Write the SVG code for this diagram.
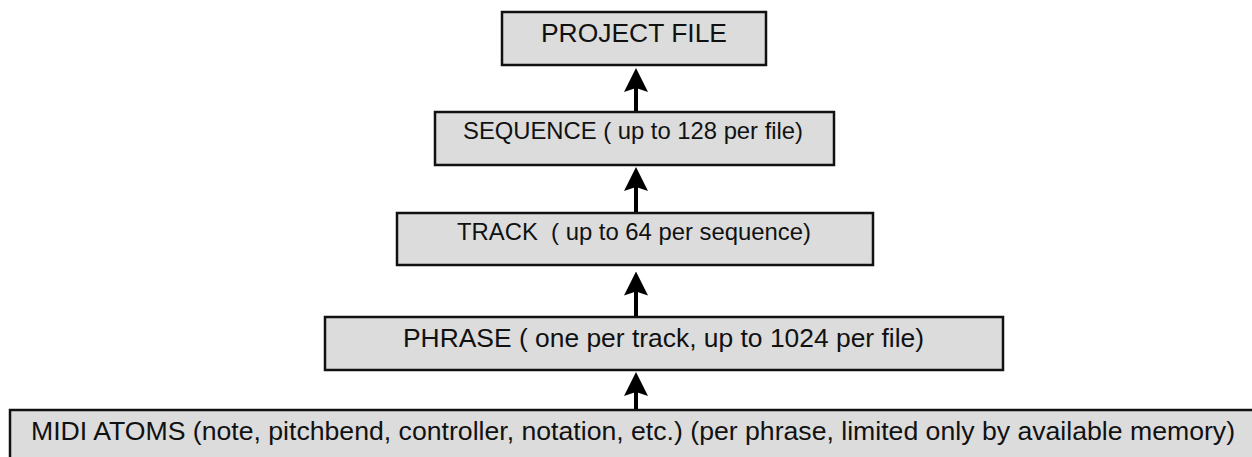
<svg xmlns="http://www.w3.org/2000/svg" width="1252" height="457" viewBox="0 0 1252 457">
  <style>
    .box { fill: #dcdcdc; stroke: #111; stroke-width: 2.5; }
    .lbl { font-family: "Liberation Sans", Arial, Helvetica, sans-serif; fill: #111; }
    .link { stroke: #000; stroke-width: 4; fill: none; marker-end: url(#ah); }
  </style>
  <defs>
    <marker id="ah" markerUnits="userSpaceOnUse" markerWidth="24" markerHeight="24" viewBox="0 0 24 24" refX="12" refY="12" orient="auto">
      <path d="M24,12 L0,0 L4,12 L0,24 Z" fill="#000"/>
    </marker>
  </defs>
  <rect width="1252" height="457" fill="#fff"/>

  <g id="project-file">
    <rect class="box" x="502" y="12" width="264" height="53"/>
    <text class="lbl" x="541" y="42" font-size="26" textLength="186" lengthAdjust="spacingAndGlyphs">PROJECT FILE</text>
  </g>

  <g id="sequence">
    <rect class="box" x="435" y="112" width="399" height="53"/>
    <text class="lbl" x="463" y="139" font-size="24" textLength="340" lengthAdjust="spacingAndGlyphs">SEQUENCE ( up to 128 per file)</text>
  </g>

  <g id="track">
    <rect class="box" x="397" y="213" width="476" height="52"/>
    <text class="lbl" x="457" y="239.5" font-size="24" textLength="354" lengthAdjust="spacingAndGlyphs" xml:space="preserve">TRACK  ( up to 64 per sequence)</text>
  </g>

  <g id="phrase">
    <rect class="box" x="325" y="317" width="678" height="53"/>
    <text class="lbl" x="403" y="347" font-size="26" textLength="521" lengthAdjust="spacingAndGlyphs">PHRASE ( one per track, up to 1024 per file)</text>
  </g>

  <g id="midi-atoms">
    <rect class="box" x="10" y="410" width="1260" height="60"/>
    <text class="lbl" x="31" y="440" font-size="25.5" textLength="1204" lengthAdjust="spacingAndGlyphs">MIDI ATOMS (note, pitchbend, controller, notation, etc.) (per phrase, limited only by available memory)</text>
  </g>

  <g id="connectors">
    <line class="link" x1="636" y1="409" x2="636" y2="384"/>
    <line class="link" x1="636" y1="316" x2="636" y2="283.5"/>
    <line class="link" x1="636" y1="212" x2="636" y2="179"/>
    <line class="link" x1="636" y1="111" x2="636" y2="80"/>
  </g>
</svg>
